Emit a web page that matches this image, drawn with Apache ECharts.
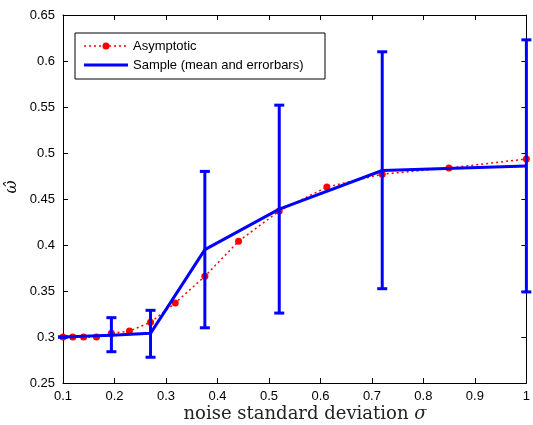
<!DOCTYPE html>
<html><head><meta charset="utf-8">
<script src="https://cdn.jsdelivr.net/npm/echarts@6/dist/echarts.min.js"></script>
<style>html,body{margin:0;padding:0;background:#fff}#c{width:533px;height:425px}</style>
</head><body><div id="c"></div>
<script>
const asymX = [0.1, 0.119, 0.140, 0.165, 0.194, 0.229, 0.270, 0.318, 0.3755, 0.441, 0.520, 0.6125, 0.720, 0.8495, 1.0];
const asymY = [0.300, 0.300, 0.300, 0.300, 0.304, 0.3065, 0.316, 0.337, 0.366, 0.404, 0.437, 0.463, 0.477, 0.4837, 0.4935];
const sampX = [0.1, 0.194, 0.270, 0.3755, 0.520, 0.720, 1.0];
const sampMean = [0.300, 0.302, 0.304, 0.395, 0.439, 0.481, 0.486];
const sampLow = [0.300, 0.284, 0.278, 0.310, 0.326, 0.3525, 0.349];
const sampHigh = [0.300, 0.321, 0.329, 0.480, 0.552, 0.610, 0.623];
const xTicks = [0.1, 0.2, 0.3, 0.4, 0.5, 0.6, 0.7, 0.8, 0.9, 1];
const yTicks = [0.25, 0.3, 0.35, 0.4, 0.45, 0.5, 0.55, 0.6, 0.65];

const chart = echarts.init(document.getElementById('c'), null, {renderer: 'canvas'});
const font = 'Liberation Sans, Arial, sans-serif';
const serif = 'DejaVu Serif, Liberation Serif, serif';
const axisCommon = {
  axisLine: {show: true, onZero: false, lineStyle: {color: '#000', width: 1}},
  axisTick: {show: true, inside: true, length: 5, lineStyle: {color: '#000'}},
  splitLine: {show: false}
};
const option = {
  animation: false,
  grid: {left: 63, top: 15, width: 468, height: 368, containLabel: false},
  xAxis: [
    Object.assign({type: 'value', min: 0.1, max: 1, interval: 0.1, position: 'bottom',
      axisLabel: {color: '#000', fontSize: 13, fontFamily: font, margin: 7,
        formatter: v => { const r = Math.round(v*10)/10; return r === 1 ? '1' : String(r); }}}, axisCommon),
    Object.assign({type: 'value', min: 0.1, max: 1, interval: 0.1, position: 'top',
      axisLabel: {show: false}}, axisCommon)
  ],
  yAxis: [
    Object.assign({type: 'value', min: 0.25, max: 0.65, interval: 0.05, position: 'left',
      axisLabel: {color: '#000', fontSize: 13, fontFamily: font, margin: 8,
        formatter: v => String(Math.round(v*100)/100)}}, axisCommon),
    Object.assign({type: 'value', min: 0.25, max: 0.65, interval: 0.05, position: 'right',
      axisLabel: {show: false}}, axisCommon)
  ],
  legend: {show: false},
  series: [
    {
      type: 'line', name: 'Asymptotic', xAxisIndex: 0, yAxisIndex: 0,
      data: asymX.map((x, i) => [x, asymY[i]]),
      lineStyle: {color: '#ff0000', width: 1.5, type: [2, 3]},
      symbol: 'circle', symbolSize: 7, showSymbol: true,
      itemStyle: {color: '#ff0000'}, z: 2
    },
    {
      type: 'line', name: 'Sample (mean and errorbars)', xAxisIndex: 0, yAxisIndex: 0,
      data: sampX.map((x, i) => [x, sampMean[i]]),
      lineStyle: {color: '#0000ff', width: 3}, symbol: 'none', z: 3
    },
    {
      type: 'custom', xAxisIndex: 0, yAxisIndex: 0, z: 4,
      data: sampX.map((x, i) => [x, sampLow[i], sampHigh[i]]),
      renderItem: function (params, api) {
        const x = api.value(0);
        const lo = api.coord([x, api.value(1)]);
        const hi = api.coord([x, api.value(2)]);
        const hw = 5;
        const st = {stroke: '#0000ff', lineWidth: 3};
        return {type: 'group', children: [
          {type: 'line', shape: {x1: lo[0], y1: lo[1], x2: hi[0], y2: hi[1]}, style: st},
          {type: 'line', shape: {x1: lo[0]-hw, y1: lo[1], x2: lo[0]+hw, y2: lo[1]}, style: st},
          {type: 'line', shape: {x1: hi[0]-hw, y1: hi[1], x2: hi[0]+hw, y2: hi[1]}, style: st}
        ]};
      }
    }
  ],
  graphic: [
    {type: 'rect', shape: {x: 75, y: 33, width: 250, height: 46},
      style: {fill: '#fff', stroke: '#000', lineWidth: 1}, z: 100},
    {type: 'line', shape: {x1: 84, y1: 46, x2: 128, y2: 46},
      style: {stroke: '#ff0000', lineWidth: 1.5, lineDash: [2, 3]}, z: 101},
    {type: 'circle', shape: {cx: 106, cy: 46, r: 3.5}, style: {fill: '#ff0000'}, z: 101},
    {type: 'text', x: 133, y: 46, style: {text: 'Asymptotic', fontSize: 13, fontFamily: font,
      fill: '#000', verticalAlign: 'middle'}, z: 101},
    {type: 'line', shape: {x1: 84, y1: 65, x2: 128, y2: 65},
      style: {stroke: '#0000ff', lineWidth: 3}, z: 101},
    {type: 'text', x: 133, y: 65, style: {text: 'Sample (mean and errorbars)', fontSize: 13,
      fontFamily: font, fill: '#000', verticalAlign: 'middle'}, z: 101},
    {type: 'text', x: 305, y: 414, style: {
      text: '{n|noise standard deviation }{s|σ}', align: 'center', verticalAlign: 'middle',
      rich: {
        n: {fontSize: 18, fontFamily: serif, fill: '#222'},
        s: {fontSize: 18, fontFamily: serif, fontStyle: 'italic', fill: '#222'}
      }}},
    {type: 'text', x: 12, y: 187, rotation: Math.PI/2, style: {
      text: 'ω\u0302', fontSize: 16, fontStyle: 'italic', fontFamily: serif,
      fill: '#000', align: 'center', verticalAlign: 'middle'}}
  ]
};
chart.setOption(option);
</script></body></html>
